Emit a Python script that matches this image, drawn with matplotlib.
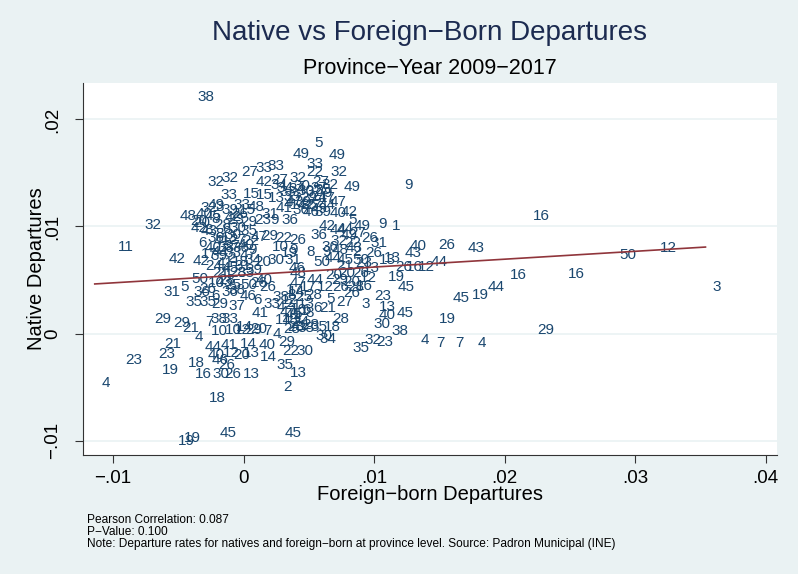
import numpy as np
import matplotlib.pyplot as plt

plt.rcParams['font.family'] = ['Liberation Sans', 'DejaVu Sans']

# province code, foreign-born departure rate, native departure rate
prov = ['38', '5', '49', '49', '33', '22', '32', '27', '33', '33',
        '32', '32', '42', '27', '32', '27', '49', '9', '32', '11',
        '16', '16', '50', '12', '3', '16', '44', '19', '45', '19',
        '29', '4', '7', '7', '4', '38', '43', '26', '40', '43',
        '44', '12', '26', '16', '13', '19', '45', '23', '13', '40',
        '45', '30', '32', '23', '35', '3', '28', '9', '1', '31',
        '40', '42', '47', '4', '23', '19', '23', '21', '18', '16',
        '18', '19', '19', '45', '45', '2', '13', '35', '14', '40',
        '29', '22', '30', '44', '41', '14', '40', '12', '20', '13',
        '26', '30', '26', '13', '46', '4', '10', '12', '29', '20',
        '7', '4', '28', '38', '35', '18', '30', '34', '29', '29',
        '21', '7', '38', '33', '41', '31', '5', '36', '26', '36',
        '35', '35', '29', '37', '50', '42', '42', '41', '18', '40',
        '38', '36', '21', '28', '28', '48', '49', '20', '42', '33',
        '48', '42', '23', '8', '6', '8', '36', '47', '29', '33',
        '15', '15', '13', '34', '34', '30', '32', '35', '9', '29',
        '33', '4', '14', '27', '44', '36', '46', '39', '23', '9',
        '36', '42', '44', '5', '49', '26', '22', '26', '36', '32',
        '22', '44', '19', '8', '9', '2', '26', '31', '50', '44',
        '45', '50', '13', '46', '20', '26', '13', '44', '20', '14',
        '12', '26', '28', '28', '26', '6', '21', '8', '10', '9',
        '20', '30', '21', '33', '48', '26', '26', '47', '17', '6',
        '4', '6', '14', '41', '1', '10', '14', '12', '21', '16',
        '18', '24', '17', '25', '3', '39', '40', '45', '28', '30',
        '35', '13', '27', '40', '33', '47', '39', '31', '24', '43',
        '50', '38', '46', '34', '39', '24', '17', '37', '32', '49',
        '27', '43', '23', '12', '20',
        '20', '43', '8', '30', '41', '6', '37', '22', '9', '44',
        '2', '34', '17', '45', '39', '10', '25', '6', '40', '15',
        '26', '32', '29', '23', '5', '13', '8', '47', '41', '38',
        '1', '33', '28', '33', '30', '47', '35', '49', '41', '31',
        '36', '48', '21', '29', '16', '5', '27']

fb_dep = [-0.0041, 0.0049, 0.0032, 0.0060, 0.0043, 0.0043, 0.0061, -0.0007, 0.0004, 0.0013,
          -0.0033, -0.0022, 0.0004, 0.0016, 0.0030, 0.0047, 0.0071, 0.0118, -0.0081, -0.0102,
          0.0216, 0.0243, 0.0283, 0.0314, 0.0354, 0.0199, 0.0182, 0.0170, 0.0155, 0.0144,
          0.0220, 0.0130, 0.0142, 0.0157, 0.0174, 0.0108, 0.0166, 0.0144, 0.0122, 0.0118,
          0.0138, 0.0128, 0.0111, 0.0119, 0.0102, 0.0105, 0.0113, 0.0095, 0.0098, 0.0098,
          0.0112, 0.0094, 0.0087, 0.0096, 0.0078, 0.0085, 0.0063, 0.0098, 0.0108, 0.0092,
          0.0061, 0.0069, 0.0061, -0.0114, -0.0096, -0.0068, -0.0071, -0.0066, -0.0048, -0.0043,
          -0.0032, -0.0056, -0.0051, -0.0024, 0.0026, 0.0025, 0.0030, 0.0020, 0.0007, 0.0006,
          0.0021, 0.0024, 0.0035, -0.0035, -0.0023, -0.0008, -0.0033, -0.0021, -0.0013, -0.0006,
          -0.0025, -0.0029, -0.0020, -0.0006, -0.0030, -0.0043, -0.0030, -0.0013, -0.0004, 0.0000,
          0.0010, 0.0017, 0.0025, 0.0036, 0.0046, 0.0056, 0.0050, 0.0053, -0.0074, -0.0059,
          -0.0052, -0.0035, -0.0031, -0.0022, 0.0001, -0.0067, -0.0054, -0.0044, -0.0039, -0.0022,
          -0.0050, -0.0039, -0.0030, -0.0017, -0.0045, -0.0063, -0.0044, -0.0026, -0.0014, -0.0035,
          -0.0025, -0.0014, -0.0026, -0.0016, -0.0025, -0.0054, -0.0033, -0.0046, -0.0046, -0.0013,
          -0.0002, -0.0020, -0.0018, -0.0030, -0.0022, -0.0035, -0.0033, 0.0000, -0.0008, -0.0023,
          -0.0006, 0.0004, 0.0013, 0.0020, 0.0029, 0.0036, 0.0042, 0.0049, 0.0056, 0.0038,
          0.0025, 0.0025, 0.0030, 0.0042, 0.0052, 0.0032, 0.0040, 0.0049, 0.0003, 0.0015,
          0.0024, 0.0052, 0.0061, 0.0075, 0.0079, 0.0085, 0.0019, 0.0030, 0.0046, 0.0061,
          0.0072, 0.0066, 0.0023, 0.0043, 0.0055, 0.0078, 0.0088, 0.0026, 0.0048, 0.0057,
          0.0066, 0.0078, 0.0098, 0.0029, 0.0067, 0.0078, 0.0086, 0.0043, 0.0071, 0.0029,
          0.0051, 0.0063, 0.0074, 0.0042, 0.0071, 0.0048, 0.0053, 0.0042, 0.0016, 0.0030,
          0.0003, 0.0013, -0.0029, -0.0010, 0.0030, 0.0000, 0.0007, 0.0030, 0.0038, 0.0002,
          0.0020, 0.0040, 0.0019, 0.0026, 0.0034, -0.0020, -0.0011, 0.0023, 0.0026, 0.0030,
          0.0024, 0.0032, 0.0027, 0.0034, -0.0027, -0.0022, -0.0042, -0.0035, -0.0028, -0.0016,
          -0.0008, -0.0023, -0.0016, -0.0010, -0.0020, -0.0008, -0.0031, -0.0012, -0.0035, -0.0027,
          -0.0008, -0.0017, -0.0008, 0.0015, 0.0034, 0.0046, 0.0052, 0.0046, 0.0054, 0.0069,
          0.0076, 0.0073, 0.0080, 0.0084, 0.0057,
          -0.0044, -0.0038, -0.0027, -0.0020, -0.0028, -0.0040, -0.0021, -0.0006, -0.0002, -0.0030,
          -0.0018, -0.0005, -0.0038, -0.0022, -0.0004, -0.0033, -0.0020, -0.0030, 0.0004, -0.0009,
          -0.0015, -0.0038, 0.0008, 0.0028, 0.0033, 0.0036, 0.0028, 0.0022, 0.0031, 0.0017,
          0.0038, 0.0010, 0.0040, 0.0022, 0.0033, 0.0027, 0.0038, 0.0046, 0.0019, 0.0008,
          0.0054, 0.0062, 0.0066, 0.0062, 0.0081, 0.0058, 0.0066]

nat_dep = [0.0221, 0.0178, 0.0168, 0.0167, 0.0158, 0.0151, 0.0151, 0.0151, 0.0155, 0.0157,
           0.0142, 0.0145, 0.0142, 0.0143, 0.0145, 0.0142, 0.0137, 0.0139, 0.0101, 0.0081,
           0.0110, 0.0056, 0.0073, 0.0080, 0.0043, 0.0055, 0.0043, 0.0036, 0.0033, 0.0014,
           0.0003, -0.0006, -0.0009, -0.0009, -0.0009, 0.0002, 0.0080, 0.0083, 0.0082, 0.0075,
           0.0067, 0.0062, 0.0062, 0.0062, 0.0071, 0.0053, 0.0043, 0.0035, 0.0025, 0.0017,
           0.0019, 0.0009, -0.0006, -0.0008, -0.0014, 0.0028, 0.0014, 0.0102, 0.0100, 0.0085,
           0.0113, 0.0114, 0.0123, -0.0046, -0.0025, -0.0034, -0.0019, -0.0010, -0.0028, -0.0038,
           -0.0060, -0.0100, -0.0098, -0.0093, -0.0093, -0.0050, -0.0037, -0.0029, -0.0022, -0.0011,
           -0.0008, -0.0016, -0.0016, -0.0013, -0.0011, -0.0010, -0.0020, -0.0018, -0.0020, -0.0018,
           -0.0029, -0.0038, -0.0038, -0.0038, -0.0025, -0.0003, 0.0002, 0.0003, 0.0003, 0.0004,
           0.0002, 0.0000, 0.0004, 0.0005, 0.0006, 0.0006, -0.0002, -0.0005, 0.0014, 0.0010,
           0.0005, 0.0011, 0.0014, 0.0014, 0.0019, 0.0039, 0.0043, 0.0039, 0.0042, 0.0039,
           0.0029, 0.0029, 0.0028, 0.0026, 0.0051, 0.0070, 0.0068, 0.0066, 0.0067, 0.0080,
           0.0080, 0.0080, 0.0057, 0.0057, 0.0050, 0.0110, 0.0120, 0.0105, 0.0099, 0.0120,
           0.0118, 0.0109, 0.0106, 0.0107, 0.0098, 0.0097, 0.0089, 0.0090, 0.0104, 0.0129,
           0.0130, 0.0129, 0.0127, 0.0136, 0.0135, 0.0133, 0.0132, 0.0134, 0.0131, 0.0127,
           0.0128, 0.0121, 0.0120, 0.0120, 0.0120, 0.0115, 0.0114, 0.0114, 0.0106, 0.0106,
           0.0106, 0.0100, 0.0097, 0.0106, 0.0100, 0.0089, 0.0089, 0.0087, 0.0092, 0.0086,
           0.0085, 0.0098, 0.0075, 0.0076, 0.0076, 0.0076, 0.0075, 0.0069, 0.0067, 0.0071,
           0.0069, 0.0069, 0.0069, 0.0061, 0.0057, 0.0057, 0.0061, 0.0050, 0.0048, 0.0039,
           0.0043, 0.0043, 0.0043, 0.0036, 0.0038, 0.0024, 0.0024, 0.0019, 0.0081, 0.0078,
           0.0067, 0.0069, 0.0057, 0.0057, 0.0057, 0.0047, 0.0043, 0.0047, 0.0043, 0.0031,
           0.0025, 0.0022, 0.0013, 0.0017, 0.0014, 0.0003, 0.0006, 0.0031, 0.0027, 0.0022,
           0.0013, 0.0011, 0.0041, 0.0034, 0.0118, 0.0115, 0.0112, 0.0110, 0.0101, 0.0099,
           0.0096, 0.0089, 0.0087, 0.0083, 0.0075, 0.0073, 0.0072, 0.0063, 0.0063, 0.0048,
           0.0045, 0.0041, 0.0035, 0.0139, 0.0123, 0.0128, 0.0127, 0.0136, 0.0139, 0.0092,
           0.0094, 0.0080, 0.0066, 0.0052, 0.0055,
           0.0103, 0.0096, 0.0093, 0.0092, 0.0086, 0.0085, 0.0082, 0.0086, 0.0078, 0.0076,
           0.0071, 0.0069, 0.0074, 0.0061, 0.0059, 0.0047, 0.0045, 0.0035, 0.0050, 0.0115,
           0.0112, 0.0117, 0.0091, 0.0006, 0.0018, 0.0028, 0.0036, 0.0020, 0.0007, 0.0034,
           0.0021, 0.0028, 0.0008, 0.0132, 0.0138, 0.0124, 0.0120, 0.0116, 0.0117, 0.0112,
           0.0081, 0.0078, 0.0063, 0.0050, 0.0044, 0.0032, 0.0029]

# linear fit (lfit) coefficients
fit_const = 0.00547
fit_slope = 0.0737

xticks = [-0.01, 0, 0.01, 0.02, 0.03, 0.04]
xticklabels = ['\u2212.01', '0', '.01', '.02', '.03', '.04']
yticks = [-0.01, 0, 0.01, 0.02]
yticklabels = ['\u2212.01', '0', '.01', '.02']

bg = '#EAF2F3'
navy = '#1A476F'
maroon = '#90353B'

fig = plt.figure(figsize=(7.98, 5.74), dpi=100, facecolor=bg)
ax = fig.add_axes([83/798, 1 - 455/574, 694/798, 372/574])
ax.set_facecolor('white')
ax.set_xlim(-0.0123, 0.04088)
ax.set_ylim(-0.011355, 0.023411)

for lab, x, y in zip(prov, fb_dep, nat_dep):
    ax.annotate(lab, (x, y), xytext=(7, 0), textcoords='offset pixels',
                ha='left', va='center', fontsize=11, color=navy, zorder=3)

xf = np.array([min(fb_dep), max(fb_dep)])
ax.plot(xf, fit_const + fit_slope * xf, color=maroon, lw=1.2, zorder=4)

ax.set_xticks(xticks)
ax.set_xticklabels(xticklabels, fontsize=13.5)
ax.set_yticks(yticks)
ax.set_yticklabels(yticklabels, fontsize=13.5, rotation=90, va='center')
ax.tick_params(length=6, width=0.8, color='#333333')
ax.tick_params(axis='x', pad=5)
ax.tick_params(axis='y', pad=10)
ax.yaxis.grid(True, color=bg, lw=1.2)
ax.set_axisbelow(True)
for s in ['top', 'right']:
    ax.spines[s].set_visible(False)
for s in ['left', 'bottom']:
    ax.spines[s].set_color('#333333')
    ax.spines[s].set_linewidth(0.8)

ax.set_xlabel('Foreign\u2212born Departures', fontsize=14.5, va='center')
ax.xaxis.set_label_coords(0.5, -(495 - 455) / 372)
ax.set_ylabel('Native Departures', fontsize=14.5, va='center')
ax.yaxis.set_label_coords((37 - 83) / 694, 0.5)

cx = (83 + 777) / 2 / 798
fig.text(cx, 1 - 33/574, 'Native vs Foreign\u2212Born Departures', ha='center', va='center',
         fontsize=20, color='#1C2B50')
fig.text(cx, 1 - 68/574, 'Province\u2212Year 2009\u22122017', ha='center', va='center',
         fontsize=15.5, color='black')

notes = ['Pearson Correlation: 0.087',
         'P\u2212Value: 0.100',
         'Note: Departure rates for natives and foreign\u2212born at province level. Source: Padron Municipal (INE)']
for i, t in enumerate(notes):
    fig.text(87/798, 1 - (520 + 12*i)/574, t, ha='left', va='center', fontsize=8.6, color='black')

fig.savefig('out.png', dpi=100, facecolor=bg)
